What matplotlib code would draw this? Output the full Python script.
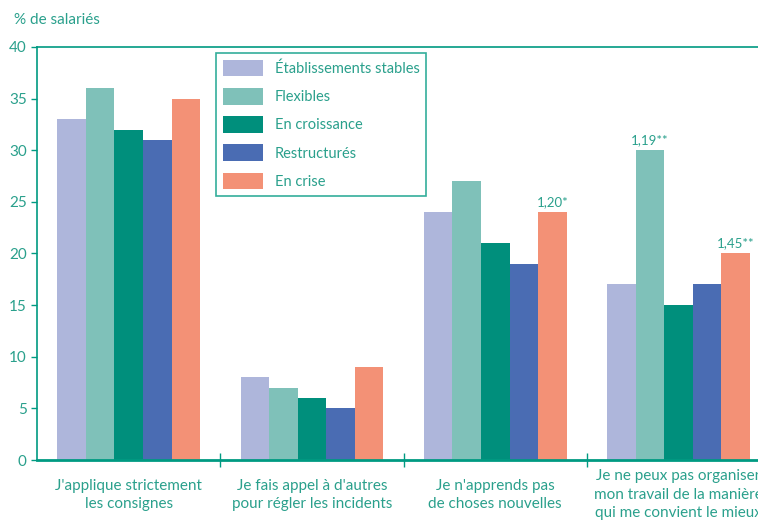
import matplotlib.pyplot as plt
import numpy as np

plt.rcParams['font.family'] = ['Lato', 'DejaVu Sans']

# Data
categories = ["J'applique strictement\nles consignes",
              "Je fais appel à d'autres\npour régler les incidents",
              "Je n'apprends pas\nde choses nouvelles",
              "Je ne peux pas organiser\nmon travail de la manière\nqui me convient le mieux"]
series = ["Établissements stables", "Flexibles", "En croissance", "Restructurés", "En crise"]
stables = [33, 8, 24, 17]
flexibles = [36, 7, 27, 30]
croissance = [32, 6, 21, 15]
restructures = [31, 5, 19, 17]
crise = [35, 9, 24, 20]
values = [stables, flexibles, croissance, restructures, crise]
# (group, series index, label)
notes = [(2, 4, "1,20*"), (3, 1, "1,19**"), (3, 4, "1,45**")]

colors = ["#AEB6DB", "#7FC1B9", "#008F7C", "#4A6CB3", "#F39176"]
teal = "#009A82"
txt = "#2AA08C"

fig = plt.figure(figsize=(7.58, 5.21), dpi=100)
ax = fig.add_axes([0.049, 0.117, 0.967, 0.793])

x = np.arange(len(categories))
w = 0.156
for i, (vals, c) in enumerate(zip(values, colors)):
    ax.bar(x + (i - 2) * w, vals, width=w, color=c, label=series[i])

for g, s, lab in notes:
    ax.text(g + (s - 2) * w, values[s][g] + 0.4, lab, ha='center', va='bottom',
            color=txt, fontsize=9.5)

ax.set_xlim(-0.5, 3.5)
ax.set_ylim(0, 40)
ax.set_yticks(range(0, 41, 5))
ax.tick_params(axis='y', colors=teal, labelcolor=txt, labelsize=11, length=4, width=1)
ax.set_xticks(np.arange(0.5, 3.5, 1.0))
ax.set_xticklabels([])
ax.tick_params(axis='x', colors=teal, direction='inout', length=10, width=1)
ax.set_xticks(x, minor=True)
ax.set_xticklabels(categories, minor=True, color=txt, fontsize=11, linespacing=1.4,
                   va='center')
ax.tick_params(axis='x', which='minor', length=0, pad=25)
for sp in ax.spines.values():
    sp.set_color(teal)
    sp.set_linewidth(1.2)
ax.spines['bottom'].set_linewidth(2)

leg = ax.legend(loc='upper left', bbox_to_anchor=(0.244, 0.985), frameon=True,
                fancybox=False, fontsize=10.5, handlelength=2.8, handleheight=1.4,
                labelspacing=0.78, borderpad=0.45, handletextpad=0.8,
                borderaxespad=0)
leg.get_frame().set_edgecolor(teal)
leg.get_frame().set_linewidth(1.2)
for t in leg.get_texts():
    t.set_color(txt)

fig.text(0.018, 0.962, "% de salariés", color=txt, fontsize=11, va='center')

fig.savefig("out.png", dpi=100)
